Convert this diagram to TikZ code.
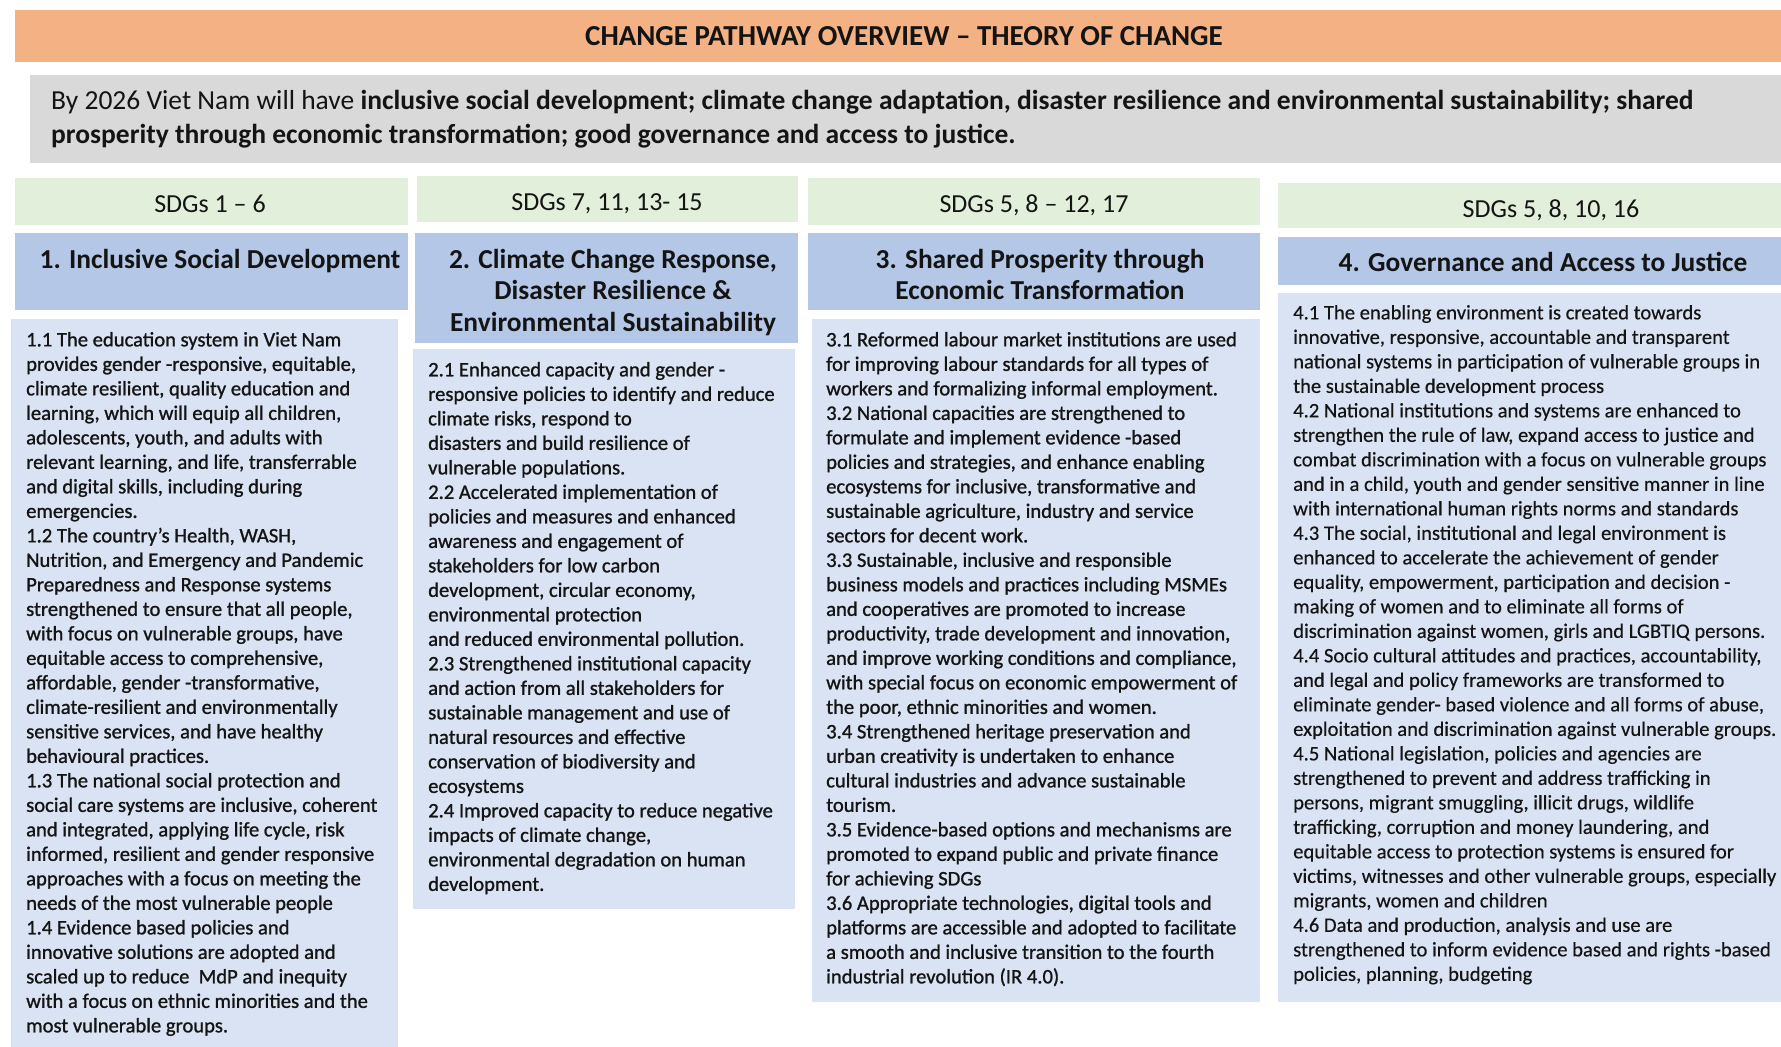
\documentclass[tikz,border=0pt]{standalone}
\usepackage{fontspec}
\setmainfont{Carlito}
\newfontfamily\heavyfont[FakeBold=1.1]{Carlito}
\newfontfamily\midfont[FakeBold=0.4]{Carlito}
\definecolor{titleorange}{HTML}{F4B183}
\definecolor{visiongray}{HTML}{D9D9D9}
\definecolor{sdggreen}{HTML}{E2EFDA}
\definecolor{headblue}{HTML}{B4C7E7}
\definecolor{bodyblue}{HTML}{DAE3F3}
\definecolor{inkcol}{HTML}{141414}
\tikzset{
  titletxt/.style={inner sep=0pt, text=inkcol, font=\fontsize{29}{34}\selectfont\bfseries},
  visiontxt/.style={anchor=north west, inner sep=0pt, align=left, text=inkcol, font=\fontsize{27.5}{34.5}\selectfont},
  sdgtxt/.style={anchor=base, inner sep=0pt, text=inkcol, font=\fontsize{26}{31}\selectfont},
  headtxt/.style={anchor=north, inner sep=0pt, align=center, text=inkcol, font=\fontsize{27.4}{31.5}\selectfont\bfseries},
  bodytxt/.style={anchor=north west, inner sep=0pt, align=left, text=inkcol, font=\heavyfont\fontsize{20.6}{24.5}\selectfont},
  bodytxtlight/.style={bodytxt, font=\midfont\fontsize{20.6}{24.5}\selectfont},
}
\begin{document}
\begin{tikzpicture}[x=1pt,y=-1pt]
\useasboundingbox[fill=white] (0,0) rectangle (1781,1047);
% title band and vision
\fill[titleorange] (15,10) rectangle (1781,62);
\fill[visiongray] (30,75) rectangle (1781,163);
% column 1
\fill[sdggreen] (15,178) rectangle (408,225);
\fill[headblue] (15,233) rectangle (408,310);
\fill[bodyblue] (11,319) rectangle (398,1047);
% column 2
\fill[sdggreen] (417,176) rectangle (798,222);
\fill[headblue] (415,233) rectangle (798,343);
\fill[bodyblue] (413,349) rectangle (795,909);
% column 3
\fill[sdggreen] (808,178) rectangle (1260,225);
\fill[headblue] (808,233) rectangle (1260,310);
\fill[bodyblue] (812,319) rectangle (1260,1002);
% column 4
\fill[sdggreen] (1278,183) rectangle (1781,228);
\fill[headblue] (1278,237) rectangle (1781,285);
\fill[bodyblue] (1278,293) rectangle (1781,1002);

\node[titletxt] (title) at (904,36) {CHANGE PATHWAY OVERVIEW – THEORY OF CHANGE};
\node[visiontxt] (vision) at (51,85) {\strut By 2026 Viet Nam will have \textbf{inclusive social development; climate change adaptation, disaster resilience and environmental sustainability; shared}\\
\textbf{prosperity through economic transformation; good governance and access to justice.}};

\node[sdgtxt] (sdg1) at (210,212) {SDGs 1 – 6};
\node[sdgtxt] (sdg2) at (607,210) {SDGs 7, 11, 13- 15};
\node[sdgtxt] (sdg3) at (1034,212) {SDGs 5, 8 – 12, 17};
\node[sdgtxt] (sdg4) at (1551,217) {SDGs 5, 8, 10, 16};

\node[headtxt] (head1) at (220,246) {\strut 1. Inclusive Social Development};
\node[headtxt] (head2) at (613,246) {\strut 2. Climate Change Response,\\ Disaster Resilience \&\\ Environmental Sustainability};
\node[headtxt] (head3) at (1040,246) {\strut 3. Shared Prosperity through\\ Economic Transformation};
\node[headtxt] (head4) at (1543,249) {\strut 4. Governance and Access to Justice};

\node[bodytxt] (body1) at (26,329) {\strut 1.1 The education system in Viet Nam\\
provides gender -responsive, equitable,\\
climate resilient, quality education and\\
learning, which will equip all children,\\
adolescents, youth, and adults with\\
relevant learning, and life, transferrable\\
and digital skills, including during\\
emergencies.\\
1.2 The country’s Health, WASH,\\
Nutrition, and Emergency and Pandemic\\
Preparedness and Response systems\\
strengthened to ensure that all people,\\
with focus on vulnerable groups, have\\
equitable access to comprehensive,\\
affordable, gender -transformative,\\
climate-resilient and environmentally\\
sensitive services, and have healthy\\
behavioural practices.\\
1.3 The national social protection and\\
social care systems are inclusive, coherent\\
and integrated, applying life cycle, risk\\
informed, resilient and gender responsive\\
approaches with a focus on meeting the\\
needs of the most vulnerable people\\
1.4 Evidence based policies and\\
innovative solutions are adopted and\\
scaled up to reduce\ \ MdP and inequity\\
with a focus on ethnic minorities and the\\
most vulnerable groups.};

\node[bodytxt] (body2) at (428,359) {\strut 2.1 Enhanced capacity and gender -\\
responsive policies to identify and reduce\\
climate risks, respond to\\
disasters and build resilience of\\
vulnerable populations.\\
2.2 Accelerated implementation of\\
policies and measures and enhanced\\
awareness and engagement of\\
stakeholders for low\ carbon\\
development, circular economy,\\
environmental protection\\
and reduced environmental pollution.\\
2.3 Strengthened institutional capacity\\
and action from all stakeholders for\\
sustainable management and use of\\
natural resources\ and effective\\
conservation of biodiversity and\\
ecosystems\\
2.4 Improved capacity to reduce negative\\
impacts of climate\ change,\\
environmental degradation on human\\
development.};

\node[bodytxt] (body3) at (826,329) {\strut 3.1 Reformed labour market institutions are used\\
for improving labour standards for all types of\\
workers and formalizing informal employment.\\
3.2 National capacities are strengthened to\\
formulate and implement evidence -based\\
policies and strategies, and enhance enabling\\
ecosystems for inclusive, transformative and\\
sustainable agriculture, industry and service\\
sectors for decent work.\\
3.3 Sustainable, inclusive and responsible\\
business models and practices including MSMEs\\
and cooperatives are promoted to increase\\
productivity, trade development and innovation,\\
and improve working conditions and compliance,\\
with special focus on economic empowerment of\\
the poor, ethnic minorities and women.\\
3.4 Strengthened heritage preservation and\\
urban creativity is undertaken to enhance\\
cultural industries and advance sustainable\\
tourism.\\
3.5 Evidence-based options and mechanisms are\\
promoted to expand public and private finance\\
for achieving SDGs\\
3.6 Appropriate technologies, digital tools and\\
platforms are accessible and adopted to facilitate\\
a smooth and inclusive transition to the fourth\\
industrial revolution (IR 4.0).};

\node[bodytxtlight] (body4) at (1293,302) {\strut 4.1 The enabling environment is created towards\\
innovative, responsive, accountable and transparent\\
national systems in participation of vulnerable groups in\\
the sustainable development process\\
4.2 National institutions and systems are enhanced to\\
strengthen the rule of law, expand access to justice and\\
combat discrimination with a focus on vulnerable groups\\
and in a child, youth and gender sensitive manner in line\\
with international human rights norms and standards\\
4.3 The social, institutional and legal environment is\\
enhanced to accelerate the achievement of gender\\
equality, empowerment, participation and decision -\\
making of women and to eliminate all forms of\\
discrimination against women, girls and LGBTIQ persons.\\
4.4 Socio cultural attitudes and practices, accountability,\\
and legal and policy frameworks are transformed to\\
eliminate gender- based violence and all forms of abuse,\\
exploitation and discrimination against vulnerable groups.\\
4.5 National legislation, policies and agencies are\\
strengthened to prevent and address trafficking in\\
persons, migrant smuggling, illicit drugs, wildlife\\
trafficking, corruption and money laundering, and\\
equitable access to protection systems is ensured for\\
victims, witnesses and other vulnerable groups, especially\\
migrants, women and children\\
4.6 Data and production, analysis and use are\\
strengthened to inform evidence based and rights -based\\
policies, planning, budgeting};
\end{tikzpicture}
\end{document}
